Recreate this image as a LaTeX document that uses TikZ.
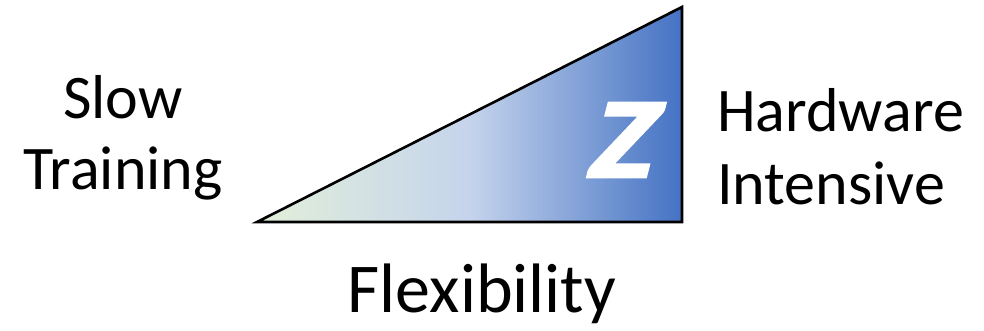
\documentclass[tikz,border=0pt]{standalone}
\usepackage{fontspec}
\setmainfont{Carlito}
\newfontfamily\zfont{Carlito}[FakeSlant=0.22,FakeBold=3]
\usepackage{tikz}
\definecolor{flexgreen}{HTML}{E2EFDA}
\definecolor{flexlilac}{HTML}{C5D4EC}
\definecolor{flexblue}{HTML}{4472C4}
\tikzset{lbl/.style={inner sep=0pt,font=\fontsize{62}{71}\selectfont},ramp/.style={draw=black,line width=2.6pt,left color=flexgreen,right color=flexblue,middle color=flexlilac}}

\begin{document}
\begin{tikzpicture}[x=1pt,y=1pt,zlogo/.style={inner sep=0pt,text=white,xscale=1.15,font=\fontsize{113}{113}\zfont\bfseries}]
\useasboundingbox (0,0) rectangle (984,331);
\coordinate (lo) at (257,109);
\coordinate (ro) at (682,109);
\coordinate (top) at (682,324);
\path[ramp] (lo)--(ro)--(top)--cycle;
\node[zlogo] (z) at (617,191) {Z};
\node[lbl,align=center,anchor=base] (slow) at (123,141) {Slow\\Training};
\node[lbl,align=left,anchor=base west,font=\fontsize{62}{73}\selectfont] (hw) at (717,126) {Hardware\\Intensive};
\node[lbl,anchor=base,font=\fontsize{70}{80}\selectfont] (flex) at (482,18) {Flexibility};
\end{tikzpicture}
\end{document}
